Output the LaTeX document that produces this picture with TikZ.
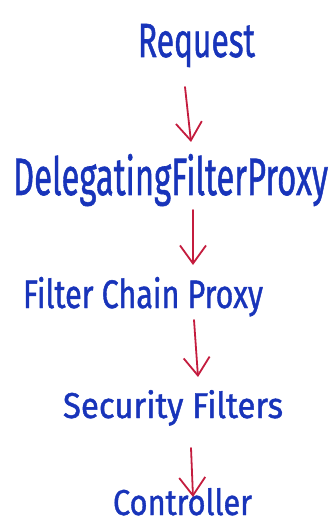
\documentclass[tikz,border=0pt]{standalone}
\usepackage{fontspec}
\setmainfont{Fira Sans}
\newfontfamily\inkfont{Fira Sans}[FakeBold=1.2]
\usetikzlibrary{arrows.meta,calc}
\definecolor{inkblue}{RGB}{24,52,186}
\definecolor{inkred}{RGB}{196,28,62}
\tikzset{
  label/.style={inner sep=0pt, outer sep=0pt, anchor=base west, text=inkblue, font=\inkfont},
  flow/.style={draw=inkred, line width=1.8pt, line cap=round,
    -{Straight Barb[length=18pt, width=26pt, line width=1.8pt]}},
}
\begin{document}
\begin{tikzpicture}[x=1pt, y=-1pt]
  \useasboundingbox[fill=white] (0,0) rectangle (333,526);

  % the five stages of the request, top to bottom
  \node[label] (req) at (138,57)  {\resizebox{117pt}{33pt}{Request}};
  \node[label] (dfp) at (13,195)  {\resizebox{315pt}{41pt}{DelegatingFilterProxy}};
  \node[label] (fcp) at (23,308)  {\resizebox{240pt}{31pt}{Filter Chain Proxy}};
  \node[label] (sec) at (63,418)  {\resizebox{220pt}{28pt}{Security Filters}};
  \node[label] (ctl) at (113,515) {\resizebox{139pt}{27pt}{Controller}};

  % hand-drawn arrows between the stages
  \draw[flow] ($(req.base west)+(47,30)$)  -- ($(dfp.base west)+(178,-53)$);
  \draw[flow] ($(dfp.base west)+(180,15)$) -- ($(fcp.base west)+(170,-43)$);
  \draw[flow] ($(fcp.base west)+(171,12)$) -- ($(sec.base west)+(135,-41)$);
  \draw[flow] ($(sec.base west)+(128,30)$) -- ($(ctl.base west)+(80,-18)$);
\end{tikzpicture}
\end{document}
